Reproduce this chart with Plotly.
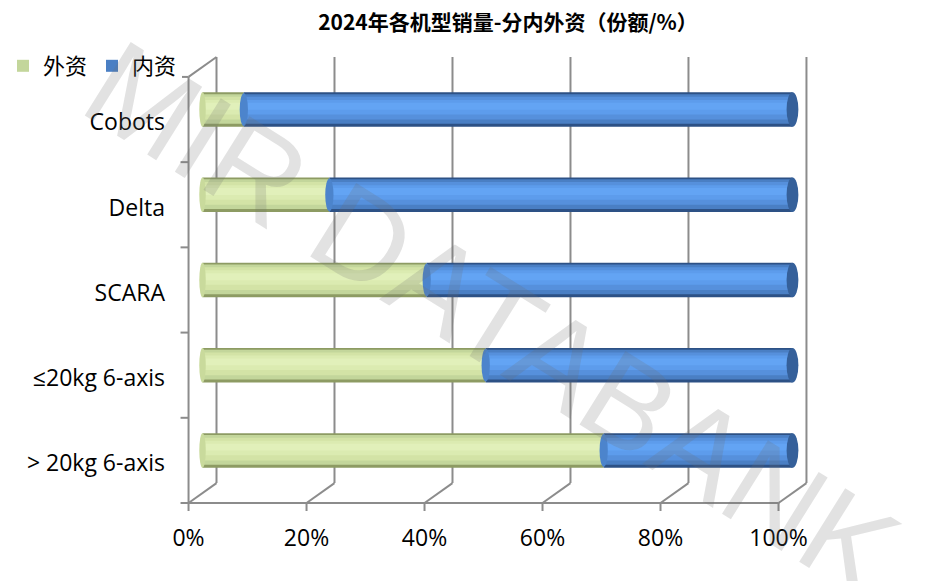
import plotly.graph_objects as go

# ---------------- data ----------------
categories = ["> 20kg 6-axis", "≤20kg 6-axis", "SCARA", "Delta", "Cobots"]
foreign = [68, 48, 38, 21.5, 7]        # 外资 share (%)
domestic = [32, 52, 62, 78.5, 93]      # 内资 share (%)
x_ticks = [0, 20, 40, 60, 80, 100]
x_tick_text = ["0%", "20%", "40%", "60%", "80%", "100%"]
series_names = ["外资", "内资"]
title_text = "2024年各机型销量-分内外资（份额/%）"
watermark = "MIR DATABANK"

# ---------------- style / geometry ----------------
WIN_W, WIN_H = 931, 581
OFF = 8                       # page body margin
W, H = WIN_W - OFF, WIN_H - OFF
FONT = "Open Sans, Noto Sans CJK SC, sans-serif"
DX, DY = 2.37, 0.117          # half depth of the 3D box (axis units)
PAD_X, PAD_Y = 0.6, 0.035
PX_X, PX_Y = 5.9, 85.25       # pixels per axis unit
BAR_W = 0.405
GRID = "#8c8c8c"

n = len(categories)
xmin, xmax = -DX - PAD_X, 100 + DX + PAD_X
ymin, ymax = -0.5 - DY - PAD_Y, n - 0.5 + DY + PAD_Y
plot_w = (xmax - xmin) * PX_X
plot_h = (ymax - ymin) * PX_Y
left_px = 189 - OFF - PAD_X * PX_X
top_px = 57.4 - OFF - PAD_Y * PX_Y
m_l = round(left_px)
m_t = round(top_px)
m_r = round(W - m_l - plot_w)
m_b = round(H - m_t - plot_h)
plot_w = W - m_l - m_r
plot_h = H - m_t - m_b


def xpaper(v):
    return (v - xmin) / (xmax - xmin)


def ypaper(v):
    return (v - ymin) / (ymax - ymin)


ypos = list(range(n))
fig = go.Figure()

green_layers = [(1.0, "#8d9b63", False), (0.86, "#c3d69b", True), (0.66, "#d3e3a6", False),
                (0.42, "#dbebb1", False), (0.2, "#e1f0ba", False)]
blue_layers = [(1.0, "#2d5185", False), (0.86, "#4a7fc4", True), (0.66, "#5690dc", False),
               (0.42, "#5d9cec", False), (0.2, "#63a4f4", False)]


def add_layers(values, bases, layers, name):
    for frac, color, legend in layers:
        w = BAR_W * frac
        top = BAR_W / 2 - 0.38 * (BAR_W - w)
        fig.add_trace(go.Bar(
            y=ypos, x=values, base=bases, orientation="h",
            width=w, offset=top - w,
            marker=dict(color=color, line=dict(width=0)),
            name=name, showlegend=legend, legendgroup=name,
            hoverinfo="skip" if not legend else None,
        ))


add_layers(foreign, [0] * n, green_layers, series_names[0])
add_layers(domestic, foreign, blue_layers, series_names[1])

shapes = []
line = dict(color=GRID, width=2)
# back-wall gridlines and floor diagonals
for p in x_ticks:
    shapes.append(dict(type="line", xref="x", yref="y", x0=p + DX, x1=p + DX,
                       y0=-0.5 + DY, y1=n - 0.5 + DY, line=line, layer="below"))
    shapes.append(dict(type="line", xref="x", yref="y", x0=p - DX, x1=p + DX,
                       y0=-0.5 - DY, y1=-0.5 + DY, line=line, layer="below"))
    # x tick marks
    shapes.append(dict(type="line", xref="x", yref="paper", x0=p - DX, x1=p - DX,
                       y0=ypaper(-0.5 - DY), y1=ypaper(-0.5 - DY) - 8 / plot_h,
                       line=line, layer="below"))
# front floor edge
shapes.append(dict(type="line", xref="x", yref="y", x0=-DX, x1=100 - DX,
                   y0=-0.5 - DY, y1=-0.5 - DY, line=line, layer="below"))
# left wall front edge and top diagonal
shapes.append(dict(type="line", xref="x", yref="y", x0=-DX, x1=-DX,
                   y0=-0.5 - DY, y1=n - 0.5 - DY, line=line, layer="below"))
shapes.append(dict(type="line", xref="x", yref="y", x0=-DX, x1=DX,
                   y0=n - 0.5 - DY, y1=n - 0.5 + DY, line=line, layer="below"))
# y tick marks (category boundaries)
for i in range(n + 1):
    yv = ypaper(i - 0.5 - DY)
    shapes.append(dict(type="line", xref="paper", yref="paper",
                       x0=xpaper(-DX) - 8 / plot_w, x1=xpaper(-DX), y0=yv, y1=yv,
                       line=line, layer="below"))

# cylinder caps
for i in range(n):
    total = foreign[i] + domestic[i]
    shapes.append(dict(type="circle", xref="x", yref="y", x0=-0.55, x1=0.55,
                       y0=i - BAR_W / 2, y1=i + BAR_W / 2,
                       fillcolor="#c9da9c", line=dict(width=0)))
    shapes.append(dict(type="circle", xref="x", yref="y",
                       x0=foreign[i] - 0.7, x1=foreign[i] + 0.7,
                       y0=i - BAR_W / 2 + 0.01, y1=i + BAR_W / 2 - 0.01,
                       fillcolor="#4c84cc", line=dict(width=0)))
    shapes.append(dict(type="circle", xref="x", yref="y",
                       x0=total - 1.0, x1=total + 1.0,
                       y0=i - BAR_W / 2, y1=i + BAR_W / 2,
                       fillcolor="#35609a", line=dict(width=0)))

fig.update_layout(
    width=W, height=H,
    margin=dict(l=m_l, r=m_r, t=m_t, b=m_b, autoexpand=False),
    paper_bgcolor="white", plot_bgcolor="white",
    barmode="overlay",
    font=dict(family=FONT, size=23, color="#000000"),
    title=dict(text="<b>" + title_text + "</b>", x=(508 - OFF) / W, xanchor="center",
               xref="container", y=1 - (23 - OFF) / H, yanchor="middle", yref="container",
               font=dict(family="Noto Sans CJK SC, sans-serif", size=21, color="#000")),
    xaxis=dict(range=[xmin, xmax], showgrid=False, zeroline=False, showline=False,
               tickvals=[p - DX for p in x_ticks], ticktext=x_tick_text,
               ticks="", ticklabelstandoff=16, tickfont=dict(size=23), automargin=False),
    yaxis=dict(range=[ymin, ymax], showgrid=False, zeroline=False, showline=False,
               tickvals=[i - 0.15 for i in ypos], ticktext=categories,
               ticks="", ticklabelstandoff=19, tickfont=dict(size=23), automargin=False),
    legend=dict(orientation="h", xref="paper", yref="paper",
                x=(3 - OFF - m_l) / plot_w, y=1 - (66 - OFF - m_t) / plot_h,
                xanchor="left", yanchor="middle",
                font=dict(size=22), traceorder="normal", itemwidth=30),
    shapes=shapes,
    showlegend=True,
)

fig.add_annotation(
    text=watermark, xref="paper", yref="paper",
    x=(492 - OFF - m_l) / plot_w, y=1 - (318 - OFF - m_t) / plot_h,
    showarrow=False, textangle=32,
    font=dict(family="Liberation Sans, Arial, sans-serif", size=126,
              color="rgba(110,110,110,0.2)"),
)

fig.write_html("out.html")
